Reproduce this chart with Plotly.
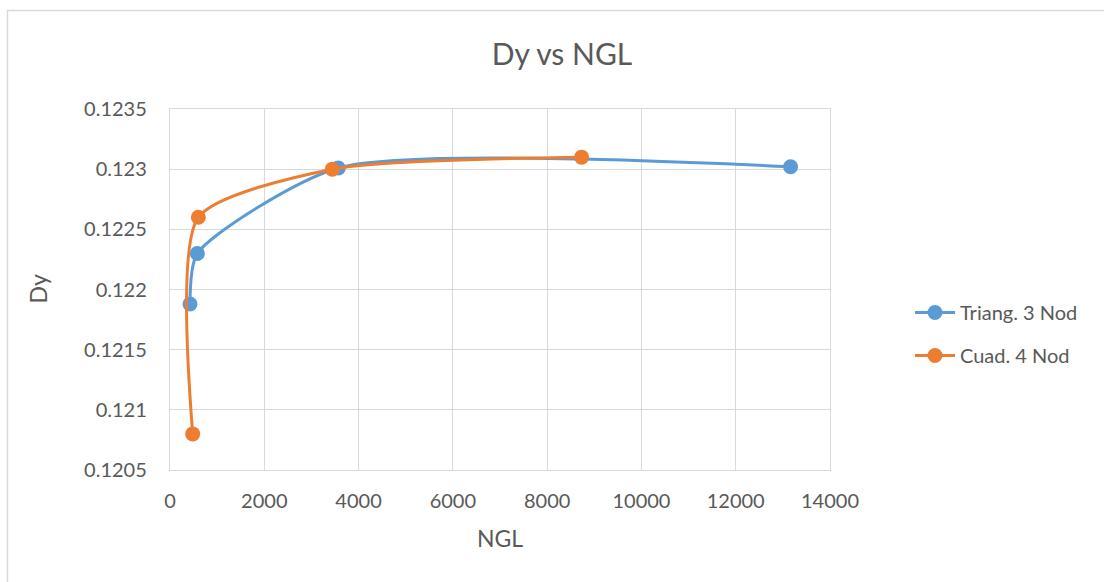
import plotly.graph_objects as go

# Data
tri_ngl = [424, 580, 3570, 13164]
tri_dy = [0.12188, 0.12230, 0.12301, 0.12302]
cua_ngl = [481, 601, 3443, 8731]
cua_dy = [0.12080, 0.12260, 0.12300, 0.12310]

series_names = ["Triang. 3 Nod", "Cuad. 4 Nod"]
colors = ["#5B9BD5", "#ED7D31"]

FONT = "Lato"
GRAY = "#595959"
GRID = "#d9d9d9"

fig = go.Figure()
for i, (xs, ys, name, col) in enumerate([(tri_ngl, tri_dy, series_names[0], colors[0]),
                                         (cua_ngl, cua_dy, series_names[1], colors[1])]):
    fig.add_trace(go.Scatter(
        x=xs, y=ys, name=name, mode="lines+markers", legendgroup=f"g{i}",
        line=dict(color=col, width=3, shape="spline", smoothing=0.65),
        marker=dict(color=col, size=15),
    ))

W, H = 1104, 582
L, R, T, B = 170, W - 830, 109, H - 470
pw, ph = W - L - R, H - T - B

def px2x(p):
    return (p - L) / pw

def px2y(p):
    return (H - B - p) / ph

fig.update_layout(
    width=W, height=H,
    margin=dict(l=L, r=R, t=T, b=B),
    paper_bgcolor="white", plot_bgcolor="white",
    font=dict(family=FONT, color=GRAY, size=20),
    showlegend=True,
    legend=dict(x=px2x(910), y=px2y(334), xanchor="left", yanchor="middle",
                font=dict(size=20, color=GRAY), tracegroupgap=14,
                traceorder="grouped",
                itemwidth=40, bgcolor="rgba(0,0,0,0)"),
    title=dict(text="Dy vs NGL", x=562 / W, xref="container", xanchor="center",
               y=1 - 54 / H, yref="container", yanchor="middle",
               font=dict(size=30, color=GRAY, family=FONT)),
    xaxis=dict(range=[0, 14000], dtick=2000, tick0=0, showgrid=True,
               gridcolor=GRID, gridwidth=1.4, showline=True, linecolor=GRID,
               linewidth=1.4, mirror=True, zeroline=False,
               tickformat="d",
               ticks="", ticklabelstandoff=13,
               tickfont=dict(size=20, color=GRAY)),
    yaxis=dict(range=[0.1205, 0.1235], dtick=0.0005, tick0=0.1205, showgrid=True,
               gridcolor=GRID, gridwidth=1.4, showline=True, linecolor=GRID,
               linewidth=1.4, mirror=True, zeroline=False,
               ticks="", ticklabelstandoff=18,
               tickfont=dict(size=20, color=GRAY)),
    annotations=[
        dict(text="NGL", x=0.5, y=px2y(538), xref="paper", yref="paper",
             xanchor="center", yanchor="middle", showarrow=False,
             font=dict(size=23, color=GRAY, family=FONT)),
        dict(text="Dy", x=px2x(37), y=0.5, xref="paper", yref="paper",
             xanchor="center", yanchor="middle", showarrow=False, textangle=-90,
             font=dict(size=23, color=GRAY, family=FONT)),
    ],
    shapes=[
        dict(type="line", xref="paper", yref="paper",
             x0=px2x(7.5), x1=px2x(7.5), y0=px2y(600), y1=px2y(10),
             line=dict(color=GRID, width=1.5)),
        dict(type="line", xref="paper", yref="paper",
             x0=px2x(7), x1=px2x(1120), y0=px2y(10.5), y1=px2y(10.5),
             line=dict(color=GRID, width=1.5)),
    ],
)

fig.write_html("out.html",
               config={"displayModeBar": False},
               post_script="document.body.style.margin='0px';document.body.style.overflow='hidden';")
